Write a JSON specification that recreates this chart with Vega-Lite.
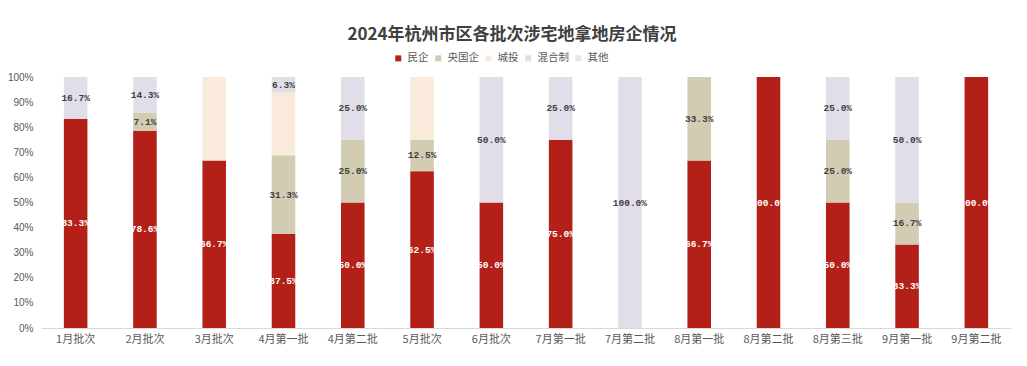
{
  "$schema": "https://vega.github.io/schema/vega-lite/v6.json",
  "autosize": "none",
  "width": 970,
  "height": 251,
  "padding": {"left": 41, "top": 77, "right": 16, "bottom": 38},
  "background": "white",
  "config": {"view": {"stroke": null}},
  "title": {
    "text": "2024年杭州市区各批次涉宅地拿地房企情况",
    "font": "Noto Sans CJK SC",
    "fontSize": 17,
    "fontWeight": "bold",
    "color": "#404040",
    "anchor": "middle",
    "frame": "group",
    "offset": 34,
    "dy": 25,
    "dx": -14
  },
  "data": {
    "values": [
      {"batch": "1月批次", "type": "民企", "ord": 1, "value": 83.3},
      {"batch": "1月批次", "type": "混合制", "ord": 4, "value": 16.7},
      {"batch": "2月批次", "type": "民企", "ord": 1, "value": 78.6},
      {"batch": "2月批次", "type": "央国企", "ord": 2, "value": 7.1},
      {"batch": "2月批次", "type": "混合制", "ord": 4, "value": 14.3},
      {"batch": "3月批次", "type": "民企", "ord": 1, "value": 66.7},
      {"batch": "3月批次", "type": "城投", "ord": 3, "value": 33.3},
      {"batch": "4月第一批", "type": "民企", "ord": 1, "value": 37.5},
      {"batch": "4月第一批", "type": "央国企", "ord": 2, "value": 31.3},
      {"batch": "4月第一批", "type": "城投", "ord": 3, "value": 25.0},
      {"batch": "4月第一批", "type": "混合制", "ord": 4, "value": 6.3},
      {"batch": "4月第二批", "type": "民企", "ord": 1, "value": 50.0},
      {"batch": "4月第二批", "type": "央国企", "ord": 2, "value": 25.0},
      {"batch": "4月第二批", "type": "混合制", "ord": 4, "value": 25.0},
      {"batch": "5月批次", "type": "民企", "ord": 1, "value": 62.5},
      {"batch": "5月批次", "type": "央国企", "ord": 2, "value": 12.5},
      {"batch": "5月批次", "type": "城投", "ord": 3, "value": 25.0},
      {"batch": "6月批次", "type": "民企", "ord": 1, "value": 50.0},
      {"batch": "6月批次", "type": "混合制", "ord": 4, "value": 50.0},
      {"batch": "7月第一批", "type": "民企", "ord": 1, "value": 75.0},
      {"batch": "7月第一批", "type": "混合制", "ord": 4, "value": 25.0},
      {"batch": "7月第二批", "type": "混合制", "ord": 4, "value": 100.0},
      {"batch": "8月第一批", "type": "民企", "ord": 1, "value": 66.7},
      {"batch": "8月第一批", "type": "央国企", "ord": 2, "value": 33.3},
      {"batch": "8月第二批", "type": "民企", "ord": 1, "value": 100.0},
      {"batch": "8月第三批", "type": "民企", "ord": 1, "value": 50.0},
      {"batch": "8月第三批", "type": "央国企", "ord": 2, "value": 25.0},
      {"batch": "8月第三批", "type": "混合制", "ord": 4, "value": 25.0},
      {"batch": "9月第一批", "type": "民企", "ord": 1, "value": 33.3},
      {"batch": "9月第一批", "type": "央国企", "ord": 2, "value": 16.7},
      {"batch": "9月第一批", "type": "混合制", "ord": 4, "value": 50.0},
      {"batch": "9月第二批", "type": "民企", "ord": 1, "value": 100.0}
    ]
  },
  "transform": [
    {"stack": "value", "groupby": ["batch"], "sort": [{"field": "ord", "order": "ascending"}], "as": ["y0", "y1"]},
    {"calculate": "(datum.y0 + datum.y1) / 2", "as": "ymid"},
    {"calculate": "format(datum.value, '.1f') + '%'", "as": "label"}
  ],
  "encoding": {
    "x": {
      "field": "batch",
      "type": "nominal",
      "sort": null,
      "scale": {"paddingInner": 0.66, "paddingOuter": 0.33},
      "axis": {
        "title": null,
        "labelAngle": 0,
        "labelFont": "Noto Sans CJK SC",
        "labelFontSize": 11,
        "labelColor": "#595959",
        "labelPadding": 5,
        "ticks": false,
        "domainColor": "#d9d9d9",
        "domainWidth": 1
      }
    }
  },
  "layer": [
    {
      "mark": {"type": "bar"},
      "encoding": {
        "y": {
          "field": "y0",
          "type": "quantitative",
          "scale": {"domain": [0, 100], "clamp": true, "nice": false},
          "axis": {
            "title": null,
            "values": [0, 10, 20, 30, 40, 50, 60, 70, 80, 90, 100],
            "labelExpr": "datum.value + '%'",
            "labelOverlap": false,
            "labelFont": "Liberation Sans",
            "labelFontSize": 10,
            "labelColor": "#595959",
            "labelPadding": 8,
            "ticks": false,
            "domain": false,
            "grid": false
          }
        },
        "y2": {"field": "y1"},
        "color": {
          "field": "type",
          "type": "nominal",
          "scale": {
            "domain": ["民企", "央国企", "城投", "混合制", "其他"],
            "range": ["#B22018", "#D1CCB2", "#FAEADB", "#E1DEE9", "#E3E6EC"]
          },
          "legend": {
            "title": null,
            "orient": "none",
            "direction": "horizontal",
            "legendX": 352,
            "legendY": -24,
            "symbolType": "square",
            "symbolSize": 36,
            "symbolStrokeWidth": 0,
            "labelFont": "Noto Sans CJK SC",
            "labelFontSize": 10.5,
            "labelColor": "#595959",
            "columnPadding": 4,
            "labelOffset": 4
          }
        }
      }
    },
    {
      "transform": [{"filter": "datum.type != '城投'"}],
      "mark": {"type": "text", "font": "Liberation Mono", "fontSize": 9.5, "fontWeight": "bold", "baseline": "middle", "align": "center"},
      "encoding": {
        "y": {
          "field": "ymid",
          "type": "quantitative",
          "axis": {
            "title": null,
            "values": [0, 10, 20, 30, 40, 50, 60, 70, 80, 90, 100],
            "labelExpr": "datum.value + '%'",
            "labelOverlap": false,
            "labelFont": "Liberation Sans",
            "labelFontSize": 10,
            "labelColor": "#595959",
            "labelPadding": 8,
            "ticks": false,
            "domain": false,
            "grid": false
          }
        },
        "text": {"field": "label"},
        "color": {
          "condition": {"test": "datum.type == '民企'", "value": "#ffffff"},
          "value": "#404040"
        }
      }
    }
  ]
}
